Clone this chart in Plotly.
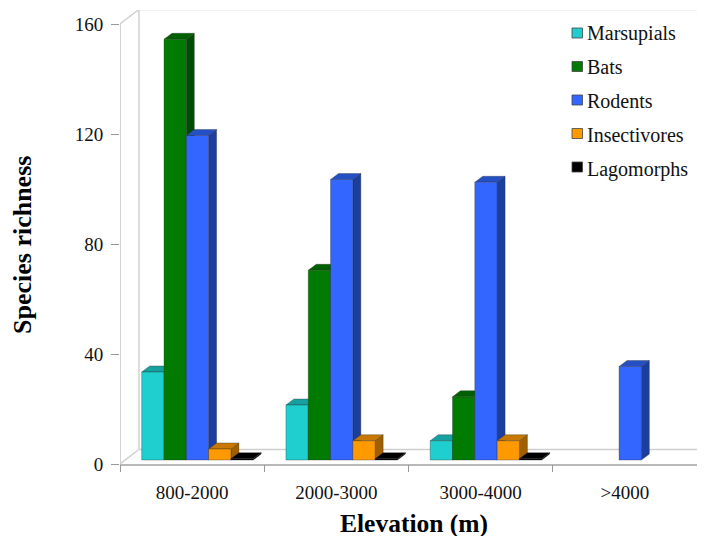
import plotly.graph_objects as go

# ---- data ----
categories = ["800-2000", "2000-3000", "3000-4000", ">4000"]
series_names = ["Marsupials", "Bats", "Rodents", "Insectivores", "Lagomorphs"]
marsupials = [32, 20, 7, None]
bats = [153, 69, 23, None]
rodents = [118, 102, 101, 34]
insectivores = [4, 7, 7, None]
lagomorphs = [0.5, 0.5, 0.5, None]
y_ticks = [0, 40, 80, 120, 160]

series_values = [marsupials, bats, rodents, insectivores, lagomorphs]
front_colors = ["#1FCFCF", "#007A00", "#3366FF", "#FF9900", "#000000"]
top_colors = ["#17A0A0", "#006000", "#2450C4", "#C87800", "#000000"]
side_colors = ["#128080", "#004C00", "#1C3E9C", "#A06000", "#000000"]

# ---- page geometry (the page body adds an 8px margin around the figure) ----
PAGE = 8
W, H = 705 - PAGE, 536 - PAGE
L, R, T, B = 120 - PAGE, 0, 10 - PAGE, 72
PX_PER_CAT = 144.25
PX_PER_VAL = 2.75
x_max = (W - L - R) / PX_PER_CAT
y_max = (H - T - B) / PX_PER_VAL


def page_x(px):
    return (px - PAGE - L) / (W - L - R)


def page_y(py):
    return (H - B - (py - PAGE)) / (H - T - B)


# pseudo-3D offsets, converted to axis units
bar_dx, bar_dy = 8 / PX_PER_CAT, 6 / PX_PER_VAL
wall_dx, wall_dy = 19 / PX_PER_CAT, 14.5 / PX_PER_VAL
bar_floor = 4 / PX_PER_VAL
bar_w = 22.3 / PX_PER_CAT
group_pad = 21.7 / PX_PER_CAT


def faces(values, idx):
    front_x, front_y, top_x, top_y, side_x, side_y = [], [], [], [], [], []
    for g, v in enumerate(values):
        if v is None:
            continue
        x0 = g + group_pad + idx * bar_w
        x1 = x0 + bar_w
        y0, y1 = bar_floor, bar_floor + v
        front_x += [x0, x1, x1, x0, x0, None]
        front_y += [y0, y0, y1, y1, y0, None]
        top_x += [x0, x1, x1 + bar_dx, x0 + bar_dx, x0, None]
        top_y += [y1, y1, y1 + bar_dy, y1 + bar_dy, y1, None]
        side_x += [x1, x1 + bar_dx, x1 + bar_dx, x1, x1, None]
        side_y += [y0, y0 + bar_dy, y1 + bar_dy, y1, y0, None]
    return (front_x, front_y), (top_x, top_y), (side_x, side_y)


fig = go.Figure()

for i, (name, vals) in enumerate(zip(series_names, series_values)):
    front, top, side = faces(vals, i)
    edge = dict(color="rgba(40,40,40,0.55)", width=0.6)
    for (xs, ys), col in ((side, side_colors[i]), (top, top_colors[i]), (front, front_colors[i])):
        fig.add_trace(go.Scatter(x=xs, y=ys, mode="lines", fill="toself", fillcolor=col,
                                 line=edge, showlegend=False, hoverinfo="skip", name=name))

# legend entries: text is the real legend, the swatches are layout shapes next to it
for name in series_names:
    fig.add_trace(go.Scatter(x=[None], y=[None], mode="markers", name=name, legendgroup=name,
                             marker=dict(size=1, color="rgba(0,0,0,0)")))

# invisible trace that carries the boundary tick marks
fig.add_trace(go.Scatter(x=[0, 4], y=[0, 0], xaxis="x2", mode="lines",
                         line=dict(width=0), showlegend=False, hoverinfo="skip"))

frame = "#CFCFCF"
axis_col = "#B8B8B8"
shapes = []


def seg(x0, y0, x1, y1, color=frame, width=1.4):
    shapes.append(dict(type="line", xref="x", yref="y", x0=x0, y0=y0, x1=x1, y1=y1,
                       line=dict(color=color, width=width), layer="below"))


top_v = y_ticks[-1]
seg(0, 0, 0, top_v, axis_col, 1.2)                       # front vertical axis
seg(0, top_v, wall_dx, top_v + wall_dy)                  # top-left diagonal
seg(0, 0, wall_dx, wall_dy)                              # bottom-left diagonal
seg(wall_dx, wall_dy, wall_dx, top_v + wall_dy)          # back wall left edge
seg(wall_dx, top_v + wall_dy, x_max, top_v + wall_dy)    # back wall top edge
seg(wall_dx, wall_dy, x_max, wall_dy)                    # back wall floor edge
seg(4, 0, x_max, (x_max - 4) / wall_dx * wall_dy)        # right floor diagonal

row_y = [33, 66.5, 100, 133.5, 167]
for color, ry in zip(front_colors, row_y):
    shapes.append(dict(type="rect", xref="paper", yref="paper",
                       x0=page_x(572), x1=page_x(582.5),
                       y0=page_y(ry + 5), y1=page_y(ry - 5),
                       fillcolor=color, line=dict(color="#444444", width=0.8)))

font = "Liberation Serif"
fig.update_layout(
    width=W, height=H, autosize=False,
    margin=dict(l=L, r=R, t=T, b=B, autoexpand=False),
    paper_bgcolor="white", plot_bgcolor="white",
    font=dict(family=font, size=19, color="#111111"),
    showlegend=True,
    legend=dict(x=page_x(547), xanchor="left", y=page_y(13), yanchor="top",
                bgcolor="rgba(0,0,0,0)", traceorder="grouped", tracegroupgap=5,
                font=dict(family=font, size=20, color="#111111")),
    xaxis=dict(range=[0, x_max], tickmode="array",
               tickvals=[k + 0.5 for k in range(len(categories))], ticktext=categories,
               ticks="outside", ticklen=10, tickcolor="rgba(0,0,0,0)", showgrid=False,
               zeroline=False, showline=True, linecolor=axis_col, linewidth=1.5),
    xaxis2=dict(range=[0, x_max], overlaying="x", anchor="y", side="bottom", tickmode="array",
                tickvals=list(range(len(categories) + 1)), ticktext=[""] * (len(categories) + 1),
                ticks="outside", ticklen=7, tickcolor="#999999", tickwidth=1,
                showgrid=False, zeroline=False, showline=False),
    yaxis=dict(range=[0, y_max], tickmode="array", tickvals=y_ticks, ticks="outside", ticklen=8,
               tickcolor="#999999", tickwidth=1, showgrid=False, zeroline=False, showline=False,
               ticklabelstandoff=4),
    shapes=shapes,
    annotations=[
        dict(text="<b>Elevation (m)</b>", xref="paper", yref="paper",
             x=page_x(414), y=page_y(523.5), xanchor="center", yanchor="middle",
             showarrow=False, font=dict(family=font, size=25.5, color="#000000")),
        dict(text="<b>Species richness</b>", xref="paper", yref="paper", textangle=-90,
             x=page_x(22), y=page_y(245), xanchor="center", yanchor="middle",
             showarrow=False, font=dict(family=font, size=26, color="#000000")),
    ],
)

fig.write_html("out.html")
